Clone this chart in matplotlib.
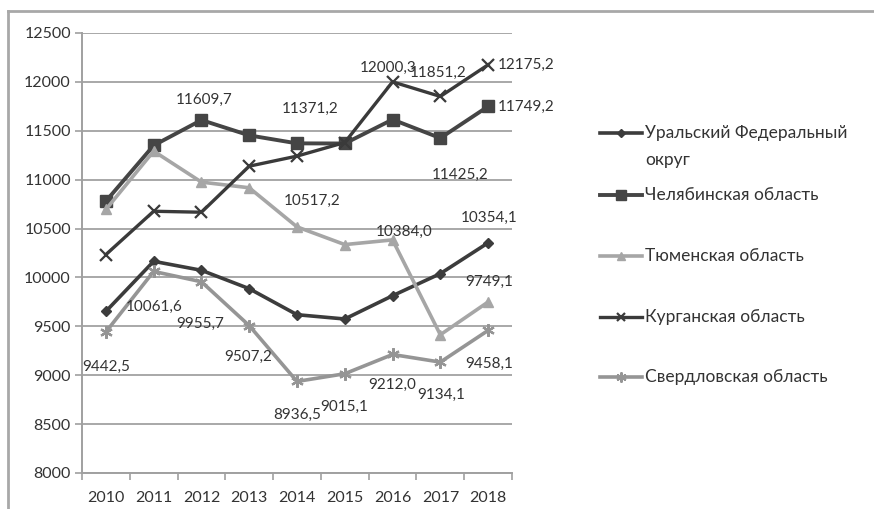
import matplotlib
matplotlib.use("Agg")
import matplotlib.pyplot as plt
from matplotlib.lines import Line2D
import numpy as np

plt.rcParams['font.family'] = ['Lato', 'DejaVu Sans']

years = ["2010", "2011", "2012", "2013", "2014", "2015", "2016", "2017", "2018"]
series_names = ["Уральский Федеральный\nокруг", "Челябинская область", "Тюменская область",
                "Курганская область", "Свердловская область"]
ural = [9653, 10165, 10073, 9885, 9619, 9575, 9813, 10039, 10354.1]
chelyabinsk = [10780, 11350, 11609.7, 11453, 11371.2, 11370, 11615, 11425.2, 11749.2]
tyumen = [10695, 11292, 10975, 10917, 10517.2, 10336, 10384.0, 9414, 9749.1]
kurgan = [10234, 10677, 10667, 11138, 11241, 11380, 12000.3, 11851.2, 12175.2]
sverdlovsk = [9442.5, 10061.6, 9955.7, 9507.2, 8936.5, 9015.1, 9212.0, 9134.1, 9458.1]
yticks = [8000, 8500, 9000, 9500, 10000, 10500, 11000, 11500, 12000, 12500]

data = [ural, chelyabinsk, tyumen, kurgan, sverdlovsk]
colors = ["#3c3c3c", "#454545", "#a6a6a6", "#3a3a3a", "#959595"]
markers = ["D", "s", "^", "x", (6, 2, 0)]
msizes = [5.5, 8.5, 7.5, 8, 9]
lws = [2.6, 2.8, 2.6, 2.4, 2.6]

fig = plt.figure(figsize=(8.74, 5.09), dpi=100)
ax = fig.add_axes([82/874, 1-473/509, (512-82)/874, (473-33)/509])

x = np.arange(len(years))
for vals, c, m, ms, lw, name in zip(data, colors, markers, msizes, lws, series_names):
    mew = 1.6 if m in ("x", (6, 2, 0)) else 1.0
    ax.plot(x, vals, color=c, marker=m, markersize=ms, linewidth=lw,
            markeredgewidth=mew, label=name, zorder=3)

def fmt(v):
    return f"{v:.1f}".replace(".", ",")

lab_fs = 11
tc = "#333333"
# Labels: (series, index, dx, dy, ha, va) in pixels
labels = [
    (kurgan, 6, -4, -14, "center", "center"),
    (kurgan, 7, -2, -24, "center", "center"),
    (kurgan, 8, 10, 0, "left", "center"),
    (chelyabinsk, 8, 10, 0, "left", "center"),
    (chelyabinsk, 2, 3, -20, "center", "center"),
    (chelyabinsk, 4, 13, -34, "center", "center"),
    (chelyabinsk, 7, 20, 37, "center", "center"),
    (tyumen, 4, 15, -26, "center", "center"),
    (tyumen, 6, 12, -8, "center", "center"),
    (ural, 8, 1, -25, "center", "center"),
    (tyumen, 8, 1, -20, "center", "center"),
    (sverdlovsk, 0, 0, 35, "center", "center"),
    (sverdlovsk, 1, 0, 35, "center", "center"),
    (sverdlovsk, 2, -1, 42, "center", "center"),
    (sverdlovsk, 3, -1, 31, "center", "center"),
    (sverdlovsk, 4, 0, 33, "center", "center"),
    (sverdlovsk, 5, -1, 33, "center", "center"),
    (sverdlovsk, 6, 0, 30, "center", "center"),
    (sverdlovsk, 7, 1, 33, "center", "center"),
    (sverdlovsk, 8, 1, 33, "center", "center"),
]
for ser, i, dx, dy, ha, va in labels:
    ax.annotate(fmt(ser[i]), (x[i], ser[i]), xytext=(dx * 0.72, -dy * 0.72),
                textcoords="offset points", ha=ha, va=va, fontsize=lab_fs,
                color=tc, zorder=4)

ax.set_xlim(-0.5, len(years) - 0.5)
ax.set_ylim(8000, 12500)
ax.set_yticks(yticks)
ax.set_yticklabels([str(v) for v in yticks], fontsize=11.5, color=tc)
ax.set_xticks(x)
ax.set_xticklabels(years, fontsize=11.5, color=tc)
ax.tick_params(axis="x", length=0, pad=13)
ax.set_xticks(np.arange(-0.5, len(years)), minor=True)
ax.tick_params(axis="x", which="minor", length=5, color="#a0a0a0", width=1.2)
ax.tick_params(axis="y", length=5, color="#a0a0a0", width=1.2, pad=3)
ax.grid(axis="y", color="#a8a8a8", linewidth=1.4, zorder=0)
for s in ["top", "right"]:
    ax.spines[s].set_visible(False)
for s in ["left", "bottom"]:
    ax.spines[s].set_color("#a0a0a0")
    ax.spines[s].set_linewidth(1.4)

# manual legend
leg_y = [133, 195, 256, 317, 377]
for c, m, ms, lw, name, yy in zip(colors, markers, msizes, lws, series_names, leg_y):
    yf = 1 - yy / 509
    mew = 1.6 if m in ("x", (6, 2, 0)) else 1.0
    fig.add_artist(Line2D([600/874, 642/874], [yf, yf], color=c, linewidth=lw,
                          transform=fig.transFigure))
    fig.add_artist(Line2D([621/874], [yf], color=c, marker=m, markersize=ms * 0.8,
                          markeredgewidth=mew, linestyle="none",
                          transform=fig.transFigure))
    lines = name.split("\n")
    for k, ln in enumerate(lines):
        fig.text(645/874, 1 - (yy + k * 27) / 509, ln, ha="left", va="center",
                 fontsize=12.5, color=tc)

# outer chart frame (top and left edges)
fig.add_artist(Line2D([8/874, 1], [1-11/509, 1-11/509], color="#a8a8a8", linewidth=2,
                      transform=fig.transFigure))
fig.add_artist(Line2D([8/874, 8/874], [0, 1-11/509], color="#a8a8a8", linewidth=2,
                      transform=fig.transFigure))

fig.savefig("out.png", dpi=100)
